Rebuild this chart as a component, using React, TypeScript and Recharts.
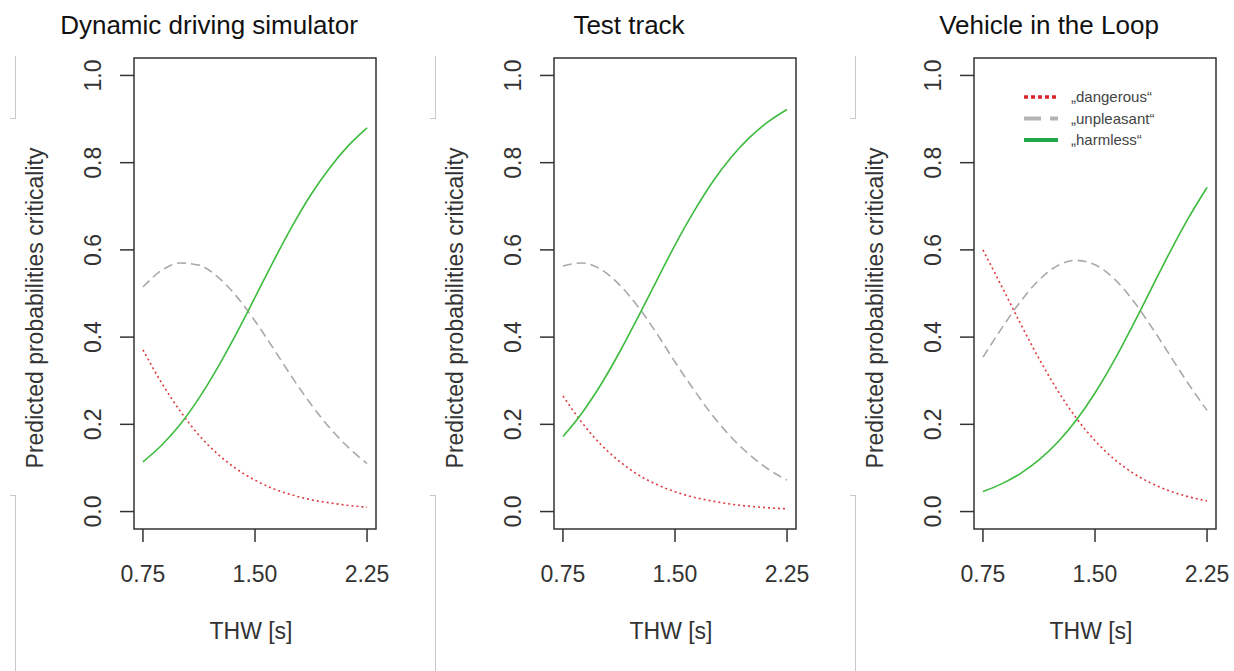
import React from 'react';
import { LineChart, Line, XAxis, YAxis, ReferenceArea, Legend } from 'recharts';

const thw = [0.75, 0.875, 1.0, 1.125, 1.25, 1.375, 1.5, 1.625, 1.75, 1.875, 2.0, 2.125, 2.25];
const xTicks = [0.75, 1.5, 2.25];
const yTicks = [0, 0.2, 0.4, 0.6, 0.8, 1.0];
const panelTitles = ['Dynamic driving simulator', 'Test track', 'Vehicle in the Loop'];
const seriesKeys = ['dangerous', 'unpleasant', 'harmless'];
const seriesNames = ['„dangerous“', '„unpleasant“', '„harmless“'];

// Dynamic driving simulator
const simDangerous = [0.371, 0.295, 0.23, 0.175, 0.132, 0.098, 0.072, 0.052, 0.038, 0.027, 0.02, 0.014, 0.01];
const simUnpleasant = [0.515, 0.553, 0.57, 0.565, 0.538, 0.494, 0.437, 0.373, 0.307, 0.246, 0.192, 0.147, 0.11];
const simHarmless = [0.114, 0.152, 0.2, 0.26, 0.33, 0.408, 0.491, 0.575, 0.655, 0.727, 0.788, 0.839, 0.88];

// Test track
const trackDangerous = [0.265, 0.205, 0.155, 0.116, 0.085, 0.0625, 0.0455, 0.033, 0.024, 0.017, 0.012, 0.0087, 0.0062];
const trackUnpleasant = [0.563, 0.57, 0.556, 0.521, 0.471, 0.41, 0.343, 0.28, 0.221, 0.171, 0.13, 0.097, 0.072];
const trackHarmless = [0.172, 0.225, 0.289, 0.363, 0.444, 0.528, 0.611, 0.687, 0.755, 0.812, 0.858, 0.894, 0.922];

// Vehicle in the Loop
const vilDangerous = [0.6, 0.5165, 0.4317, 0.3507, 0.2774, 0.2143, 0.1624, 0.1212, 0.0893, 0.0652, 0.0472, 0.034, 0.0244];
const vilUnpleasant = [0.354, 0.42, 0.481, 0.531, 0.564, 0.576, 0.566, 0.535, 0.486, 0.425, 0.359, 0.293, 0.232];
const vilHarmless = [0.046, 0.0635, 0.0871, 0.1183, 0.1588, 0.2098, 0.2719, 0.3443, 0.425, 0.5097, 0.5939, 0.6728, 0.7432];

const FONT = '"Liberation Sans", Arial, Helvetica, sans-serif';
const AXIS_COLOR = '#333';
const TEXT_COLOR = '#333';

const buildRows = (d: number[], u: number[], h: number[]) =>
  thw.map((x, i) => ({ thw: x, dangerous: d[i], unpleasant: u[i], harmless: h[i] }));

const panels = [
  { title: panelTitles[0], rows: buildRows(simDangerous, simUnpleasant, simHarmless), legend: false },
  { title: panelTitles[1], rows: buildRows(trackDangerous, trackUnpleasant, trackHarmless), legend: false },
  { title: panelTitles[2], rows: buildRows(vilDangerous, vilUnpleasant, vilHarmless), legend: true },
];

const XTick = (props: any) => {
  const { x, y, payload } = props;
  return (
    <text x={x} y={y + 40} textAnchor="middle" fontFamily={FONT} fontSize={23} fill={TEXT_COLOR}>
      {Number(payload.value).toFixed(2)}
    </text>
  );
};

const YTick = (props: any) => {
  const { x, y, payload } = props;
  const bx = x - 19;
  return (
    <text x={bx} y={y} transform={`rotate(-90, ${bx}, ${y})`} textAnchor="middle" fontFamily={FONT} fontSize={23} fill={TEXT_COLOR}>
      {Number(payload.value).toFixed(1)}
    </text>
  );
};

const legendStyles: Record<string, { stroke: string; dash?: string; w: number }> = {
  dangerous: { stroke: '#d8262c', dash: '4 3', w: 3.5 },
  unpleasant: { stroke: '#b4b4b4', dash: '17 9', w: 4 },
  harmless: { stroke: '#22a64a', w: 4 },
};

const LegendBox = (props: any) => {
  const payload = [...(props.payload || [])].sort(
    (a: any, b: any) => seriesKeys.indexOf(a.dataKey) - seriesKeys.indexOf(b.dataKey)
  );
  return (
    <svg width={170} height={66} style={{ display: 'block' }}>
      {payload.map((entry: any, i: number) => {
        const s = legendStyles[entry.dataKey];
        const cy = 8 + i * 21.5;
        return (
          <g key={entry.dataKey}>
            <line x1={2} x2={36} y1={cy} y2={cy} stroke={s.stroke} strokeWidth={s.w} strokeDasharray={s.dash} />
            <text x={49} y={cy + 5} fontFamily={FONT} fontSize={15} fill="#444">{entry.value}</text>
          </g>
        );
      })}
    </svg>
  );
};

const Decor = ({ left }: { left: number }) => (
  <>
    <div style={{ position: 'absolute', left: left + 15, top: 56, width: 1, height: 62, background: '#c8c8c8' }} />
    <div style={{ position: 'absolute', left: left + 10, top: 118, width: 6, height: 1, background: '#c8c8c8' }} />
    <div style={{ position: 'absolute', left: left + 15, top: 495, width: 1, height: 176, background: '#c8c8c8' }} />
    <div style={{ position: 'absolute', left: left + 10, top: 495, width: 6, height: 1, background: '#c8c8c8' }} />
  </>
);

const Panel = ({ idx }: { idx: number }) => {
  const p = panels[idx];
  const left = idx * 420;
  const width = Math.min(420, 1234 - left);
  const right = width - 376;
  return (
    <div style={{ position: 'absolute', left, top: 0, width, height: 671 }}>
      <svg width={width} height={50} style={{ position: 'absolute', left: 0, top: 0 }}>
        <text x={209} y={34} textAnchor="middle" fontFamily={FONT} fontSize={26} fill="#111">{p.title}</text>
      </svg>
      <LineChart width={width} height={671} data={p.rows} margin={{ top: 58, right, bottom: 0, left: 0 }}>
        <XAxis
          dataKey="thw"
          type="number"
          domain={[0.69, 2.31]}
          allowDataOverflow
          ticks={xTicks}
          interval={0}
          height={142}
          tickSize={13}
          tickMargin={0}
          axisLine={false}
          tickLine={{ stroke: AXIS_COLOR, strokeWidth: 1.5 }}
          tick={<XTick />}
          label={(lp: any) => {
            const vb = lp.viewBox;
            return (
              <text x={vb.x + vb.width / 2 - 4} y={vb.y + 110} textAnchor="middle" fontFamily={FONT} fontSize={23} fill={TEXT_COLOR}>
                THW [s]
              </text>
            );
          }}
        />
        <YAxis
          type="number"
          domain={[-0.04, 1.04]}
          allowDataOverflow
          ticks={yTicks}
          interval={0}
          width={134}
          tickSize={14}
          tickMargin={0}
          axisLine={false}
          tickLine={{ stroke: AXIS_COLOR, strokeWidth: 1.5 }}
          tick={<YTick />}
          label={(lp: any) => {
            const vb = lp.viewBox;
            const cx = vb.x + 43;
            const cy = vb.y + 250;
            return (
              <text x={cx} y={cy} transform={`rotate(-90, ${cx}, ${cy})`} textAnchor="middle" fontFamily={FONT} fontSize={23} fill={TEXT_COLOR}>
                Predicted probabilities criticality
              </text>
            );
          }}
        />
        <ReferenceArea x1={0.69} x2={2.31} y1={-0.04} y2={1.04} fill="none" fillOpacity={0} stroke={AXIS_COLOR} strokeWidth={1.5} ifOverflow="visible" />
        <Line type="monotone" dataKey="dangerous" name={seriesNames[0]} stroke="#e0393e" strokeWidth={1.6} strokeDasharray="2 3" dot={false} isAnimationActive={false} />
        <Line type="monotone" dataKey="unpleasant" name={seriesNames[1]} stroke="#a9a9a9" strokeWidth={1.6} strokeDasharray="9 5" dot={false} isAnimationActive={false} />
        <Line type="monotone" dataKey="harmless" name={seriesNames[2]} stroke="#3dbb3d" strokeWidth={1.6} dot={false} isAnimationActive={false} />
        {p.legend && (
          <Legend
            layout="vertical"
            verticalAlign="middle"
            align="center"
            itemSorter={null as any}
            content={<LegendBox />}
            wrapperStyle={{ position: 'absolute', left: 182, top: 89, width: 170, height: 66 }}
          />
        )}
      </LineChart>
      <Decor left={0} />
    </div>
  );
};

export default function App() {
  return (
    <div style={{ position: 'absolute', left: 0, top: 0, width: 1234, height: 671, background: '#fff', overflow: 'hidden' }}>
      <Panel idx={0} />
      <Panel idx={1} />
      <Panel idx={2} />
    </div>
  );
}
